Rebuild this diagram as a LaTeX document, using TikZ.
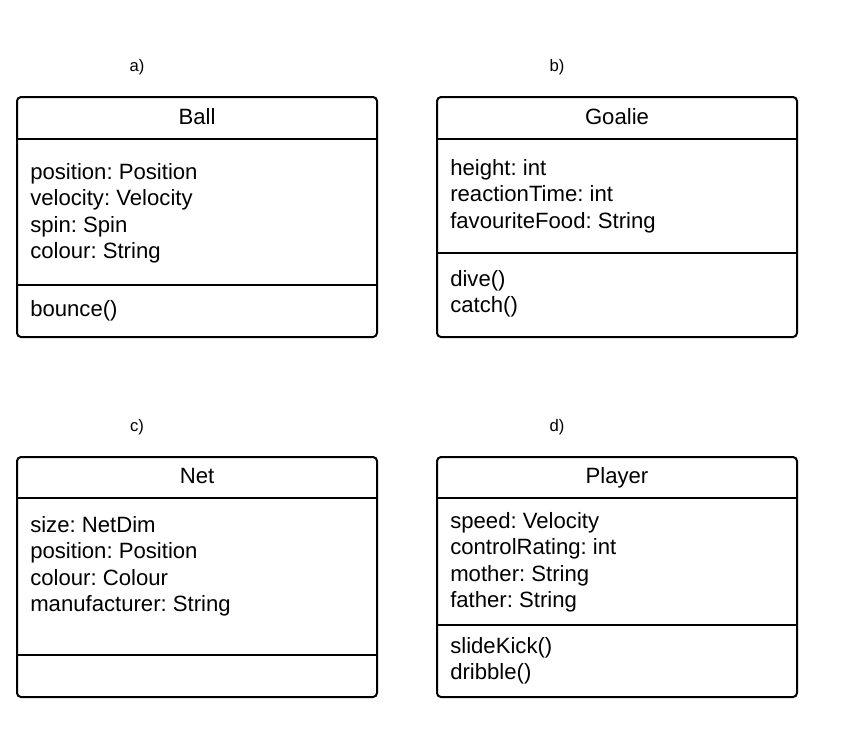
\documentclass[tikz,border=0pt]{standalone}
\usepackage{fontspec}
\setmainfont{Liberation Sans}
\frenchspacing
\usetikzlibrary{calc}

\begin{document}
\begin{tikzpicture}[x=0.75pt, y=-0.75pt,
    umlclass/.style={draw, line width=1.5pt, rounded corners=3pt, minimum width=270pt, minimum height=180pt, inner sep=0pt},
    sep/.style={line width=1.5pt},
    head/.style={font=\fontsize{16.6}{19.7}\selectfont, inner sep=0pt, anchor=base},
    member/.style={font=\fontsize{16.6}{19.7}\selectfont, inner sep=0pt, anchor=base west},
    tag/.style={font=\fontsize{12.5}{15}\selectfont, inner sep=0pt, anchor=base}
]
\useasboundingbox (0,0) rectangle (863,736);

% a) Ball
\node[tag] (taga) at (137,71) {a)};
\node[umlclass] (ball) at (197,217) {};
\node[head] (ballname) at (197,124) {Ball};
\draw[sep] ($(ball.north west)+(0,43)$) -- ($(ball.north east)+(0,43)$);
\draw[sep] ($(ball.north west)+(0,189)$) -- ($(ball.north east)+(0,189)$);
\foreach \t [count=\i] in {position: Position, velocity: Velocity, spin: Spin, colour: String}
    \node[member] (ballattr\i) at (30,179.5+26.3*\i-26.3) {\t};
\node[member] (ballop1) at (30,316.5) {bounce()};

% b) Goalie
\node[tag] (tagb) at (557,71) {b)};
\node[umlclass] (goalie) at (617,217) {};
\node[head] (goaliename) at (617,124) {Goalie};
\draw[sep] ($(goalie.north west)+(0,43)$) -- ($(goalie.north east)+(0,43)$);
\draw[sep] ($(goalie.north west)+(0,157)$) -- ($(goalie.north east)+(0,157)$);
\foreach \t [count=\i] in {height: int, reactionTime: int, favouriteFood: String}
    \node[member] (goalieattr\i) at (450,175.5+26.3*\i-26.3) {\t};
\foreach \t [count=\i] in {dive(), catch()}
    \node[member] (goalieop\i) at (450,286.5+26.3*\i-26.3) {\t};

% c) Net
\node[tag] (tagc) at (137,431) {c)};
\node[umlclass] (net) at (197,577) {};
\node[head] (netname) at (197,483) {Net};
\draw[sep] ($(net.north west)+(0,42)$) -- ($(net.north east)+(0,42)$);
\draw[sep] ($(net.north west)+(0,199)$) -- ($(net.north east)+(0,199)$);
\foreach \t [count=\i] in {size: NetDim, position: Position, colour: Colour, manufacturer: String}
    \node[member] (netattr\i) at (30,532.5+26.3*\i-26.3) {\t};

% d) Player
\node[tag] (tagd) at (557,431) {d)};
\node[umlclass] (player) at (617,577) {};
\node[head] (playername) at (617,483) {Player};
\draw[sep] ($(player.north west)+(0,42)$) -- ($(player.north east)+(0,42)$);
\draw[sep] ($(player.north west)+(0,169)$) -- ($(player.north east)+(0,169)$);
\foreach \t [count=\i] in {speed: Velocity, controlRating: int, mother: String, father: String}
    \node[member] (playerattr\i) at (450,528.5+26.3*\i-26.3) {\t};
\foreach \t [count=\i] in {slideKick(), dribble()}
    \node[member] (playerop\i) at (450,653.5+26.3*\i-26.3) {\t};
\end{tikzpicture}
\end{document}
